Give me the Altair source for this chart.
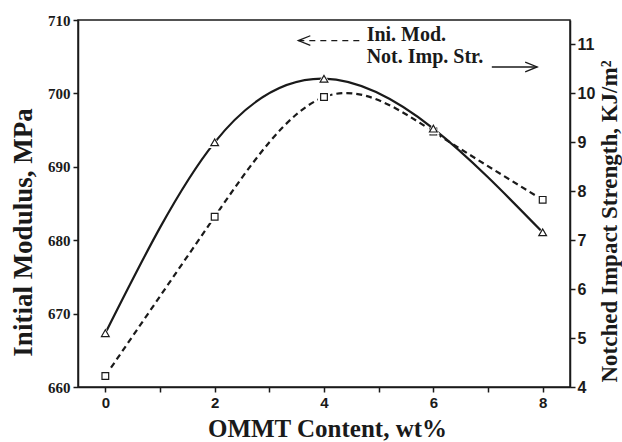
import altair as alt
import pandas as pd

# OMMT loading (wt%) and the two measured properties
ommt = [0, 2, 4, 6, 8]
ini_modulus = [661.5, 683.2, 699.5, 694.8, 685.5]        # MPa, left axis
impact_strength = [5.1, 9.0, 10.3, 9.28, 7.16]           # KJ/m², right axis

# legend-style annotations (positions in data units of the left axis)
label_text = ["Ini. Mod.", "Not. Imp. Str."]
label_x = [4.78, 4.78]
label_y = [707.1, 704.1]
arrow_start = [3.53, 7.07]
arrow_end = [4.71, 7.90]
arrow_y = [707.2, 703.6]
head_x = [3.64, 7.79]

mod_df = pd.DataFrame({"ommt": ommt, "value": ini_modulus})
imp_df = pd.DataFrame({"ommt": ommt, "value": impact_strength})
label_df = pd.DataFrame({"ommt": label_x, "value": label_y, "text": label_text})
mod_arrow = pd.DataFrame({"ommt": [arrow_start[0]], "x2": [arrow_end[0]], "value": [arrow_y[0]]})
imp_arrow = pd.DataFrame({"ommt": [arrow_start[1]], "x2": [arrow_end[1]], "value": [arrow_y[1]]})
left_head = pd.DataFrame({"ommt": [head_x[0]], "value": [arrow_y[0]]})
right_head = pd.DataFrame({"ommt": [head_x[1]], "value": [arrow_y[1]]})

INK = "#1a1a1a"
SERIF = "Liberation Serif"
SANS = "Liberation Sans"

x_scale = alt.Scale(domain=[-0.5, 8.5], nice=False, zero=False)
left_scale = alt.Scale(domain=[660, 710], nice=False, zero=False)
right_scale = alt.Scale(domain=[4, 11.5], nice=False, zero=False)

common_axis = dict(
    grid=False, domainColor=INK, domainWidth=1.5, tickColor=INK,
    tickWidth=1.5, tickSize=5, labelColor=INK, titleColor=INK,
    titleFont=SERIF, titleFontWeight="bold",
)

x_axis = alt.Axis(
    values=list(range(9)),
    labelExpr="datum.value % 2 === 0 ? datum.label : ''",
    labelFont=SANS, labelFontWeight="bold", labelFontSize=15, labelPadding=3,
    title="OMMT Content, wt%", titleFontSize=25,
    titleX=249, titleY=41, titleAlign="center", titleBaseline="middle",
    **common_axis,
)
left_axis = alt.Axis(
    values=[660, 670, 680, 690, 700, 710],
    labelFont=SERIF, labelFontWeight="bold", labelFontSize=15, labelPadding=3,
    title="Initial Modulus, MPa", titleFontSize=27, titleAngle=270,
    titleX=-55, titleY=212, titleAlign="center", titleBaseline="middle",
    **common_axis,
)
right_axis = alt.Axis(
    orient="right", values=list(range(4, 12)),
    labelFont=SANS, labelFontWeight="bold", labelFontSize=16, labelPadding=2,
    title="Notched Impact Strength, KJ/m²", titleFontSize=23, titleAngle=270,
    titleX=39, titleY=201, titleAlign="center", titleBaseline="middle",
    **common_axis,
)

X = alt.X("ommt:Q", scale=x_scale, axis=x_axis)
YL = alt.Y("value:Q", scale=left_scale, axis=left_axis)
YR = alt.Y("value:Q", scale=right_scale, axis=right_axis)

# Initial modulus: dashed smooth curve with hollow squares
mod_base = alt.Chart(mod_df).encode(x=X, y=YL)
mod_line = mod_base.mark_line(interpolate="natural", color=INK, strokeWidth=2.2, strokeDash=[6, 4])
mod_halo = mod_base.mark_point(shape="square", filled=True, color="white", size=150, opacity=1)
mod_pts = mod_base.mark_point(shape="square", filled=True, fill="white", stroke=INK,
                              strokeWidth=1.2, size=45, opacity=1)

labels = alt.Chart(label_df).mark_text(
    align="left", baseline="alphabetic", font=SERIF, fontWeight="bold",
    fontSize=20, color=INK,
).encode(x=X, y=YL, text="text:N")

mod_rule = alt.Chart(mod_arrow).mark_rule(color=INK, strokeWidth=1.3, strokeDash=[6, 5]).encode(
    x=X, x2="x2:Q", y=YL)
imp_rule = alt.Chart(imp_arrow).mark_rule(color=INK, strokeWidth=1.6).encode(
    x=X, x2="x2:Q", y=YL)
head_left = alt.Chart(left_head).mark_point(
    shape="M 1 -0.8 L -1 0 L 1 0.8", filled=False, color=INK, strokeWidth=1.3, size=144, opacity=1
).encode(x=X, y=YL)
head_right = alt.Chart(right_head).mark_point(
    shape="M -1 -0.8 L 1 0 L -1 0.8", filled=False, color=INK, strokeWidth=1.3, size=144, opacity=1
).encode(x=X, y=YL)

left_layer = alt.layer(mod_line, mod_halo, mod_pts, labels, mod_rule, imp_rule, head_left, head_right)

# Notched impact strength: solid smooth curve with hollow triangles
imp_base = alt.Chart(imp_df).encode(x=X, y=YR)
imp_line = imp_base.mark_line(interpolate="natural", color=INK, strokeWidth=2.2)
imp_halo = imp_base.mark_point(shape="triangle-up", filled=True, color="white", size=170, opacity=1)
imp_pts = imp_base.mark_point(shape="triangle-up", filled=True, fill="white", stroke=INK,
                              strokeWidth=1.2, size=60, opacity=1)
right_layer = alt.layer(imp_line, imp_halo, imp_pts)

chart = alt.layer(left_layer, right_layer).resolve_scale(y="independent").properties(
    width=492, height=367,
    autosize=alt.AutoSizeParams(type="none"),
    padding={"left": 78, "top": 20, "right": 52, "bottom": 55},
    background="white",
).configure_view(stroke=INK, strokeWidth=1.5)

chart.save("out.html", embed_options={"renderer": "svg", "actions": False})
